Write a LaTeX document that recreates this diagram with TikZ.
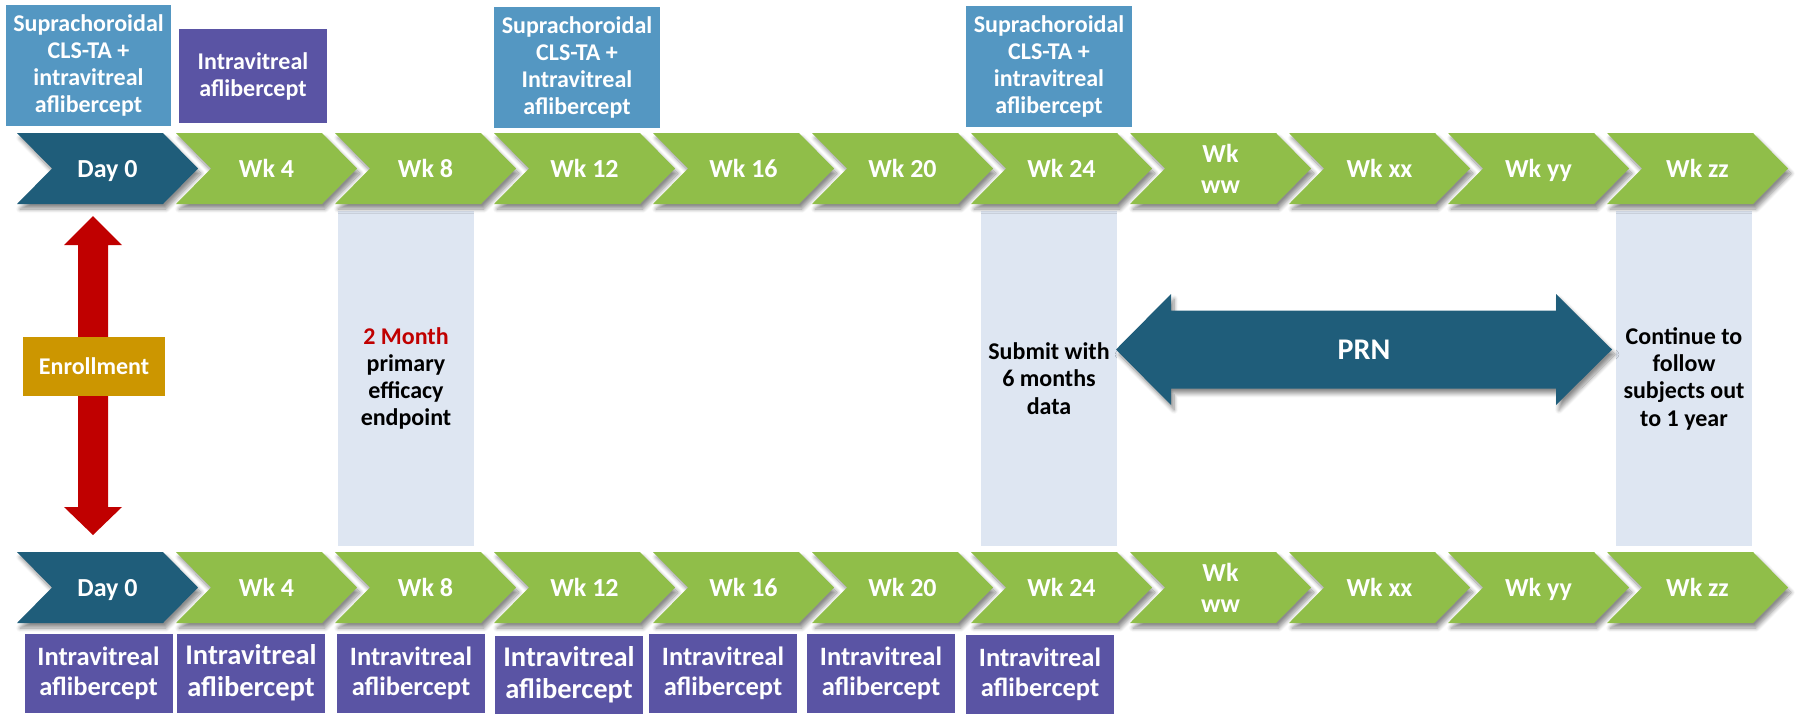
\documentclass[tikz,border=0pt]{standalone}
\usepackage{fontspec}
\setmainfont{Carlito}
\usetikzlibrary{shadows.blur}

\definecolor{boxblue}{RGB}{84,151,194}
\definecolor{boxpurple}{RGB}{90,84,164}
\definecolor{darkteal}{RGB}{31,93,122}
\definecolor{leafgreen}{RGB}{144,190,73}
\definecolor{gold}{RGB}{204,150,0}
\definecolor{arrowred}{RGB}{192,0,0}
\definecolor{bandblue}{RGB}{222,230,242}

\newcommand\fsz[2]{\fontsize{#1}{#2}\selectfont\bfseries}

\tikzset{
  softshadow/.style={blur shadow={shadow xshift=3pt, shadow yshift=-5pt,
      shadow blur radius=4pt, shadow blur steps=8, shadow opacity=45}},
  lbla/.style={text=white, inner sep=0pt, font=\fsz{26}{30},
      text height=17pt, text depth=0pt},
  lblb/.style={text=white, inner sep=0pt, font=\fsz{26}{31}, align=center},
  bluebox/.style={fill=boxblue, text=white, align=center, inner sep=0pt,
      font=\fsz{24}{27}},
  purplebox/.style={fill=boxpurple, text=white, align=center, inner sep=0pt,
      font=\fsz{24}{27}},
  dosebox/.style={purplebox, minimum width=148pt, minimum height=79pt,
      font=\fsz{26.5}{30}},
  bigdose/.style={font=\fsz{28.5}{32}},
  band/.style={fill=bandblue, text=black, align=center, inner sep=0pt,
      minimum width=136pt, minimum height=335pt, font=\fsz{24}{27.3}},
}

\begin{document}
\begin{tikzpicture}[x=1pt,y=-1pt]
\useasboundingbox (0,0) rectangle (1795,713);

% light vertical bands for the key time points
\node[band] (m8)  at (406,378.5)  {\textcolor{arrowred}{2 Month}\\primary\\efficacy\\endpoint};
\node[band] (m24) at (1049,378.5) {Submit with\\6 months\\data};
\node[band] (mzz) at (1684,378.5) {Continue to\\follow\\subjects out\\to 1 year};

% two rows of visit chevrons
\foreach \row/\yt/\yc in {top/133/168.5, bot/552/587.5}{
  \foreach \i/\lab/\sty in {0/Day 0/lbla, 1/Wk 4/lbla, 2/Wk 8/lbla, 3/Wk 12/lbla,
      4/Wk 16/lbla, 5/Wk 20/lbla, 6/Wk 24/lbla, 7/{Wk\\ww}/lblb,
      8/Wk xx/lbla, 9/Wk yy/lbla, 10/Wk zz/lbla}{
    \pgfmathsetmacro\xo{17+159*\i}
    \ifnum\i=0 \def\cc{darkteal}\else\def\cc{leafgreen}\fi
    \path[fill=\cc, softshadow] (\xo,\yt) -- ++(146,0) -- ++(35,35.5)
      -- ++(-35,35.5) -- ++(-146,0) -- ++(35,-35.5) -- cycle;
    \node[\sty] (\row\i) at (\xo+90.5,\yc) {\lab};
  }
}

% injections given at the top
\node[bluebox, minimum width=165pt, minimum height=121pt] (sc0) at (88.5,65.5)
  {Suprachoroidal\\CLS-TA +\\intravitreal\\aflibercept};
\node[purplebox, minimum width=148pt, minimum height=94pt] (iv4) at (253,76)
  {Intravitreal\\aflibercept};
\node[bluebox, minimum width=166pt, minimum height=121pt] (sc12) at (577,67.5)
  {Suprachoroidal\\CLS-TA +\\Intravitreal\\aflibercept};
\node[bluebox, minimum width=166pt, minimum height=121pt] (sc24) at (1049,66.5)
  {Suprachoroidal\\CLS-TA +\\intravitreal\\aflibercept};

% injections given at the bottom
\node[dosebox] (d0)  at (98.5,673.5)  {Intravitreal\\aflibercept};
\node[dosebox, bigdose] (d4)  at (251,673)  {Intravitreal\\aflibercept};
\node[dosebox] (d8)  at (411,673.5)  {Intravitreal\\aflibercept};
\node[dosebox, bigdose] (d12) at (569,675)  {Intravitreal\\aflibercept};
\node[dosebox] (d16) at (723,673)  {Intravitreal\\aflibercept};
\node[dosebox] (d20) at (881,673.5)  {Intravitreal\\aflibercept};
\node[dosebox] (d24) at (1040,674)  {Intravitreal\\aflibercept};

% enrollment double arrow
\path[fill=arrowred] (93,216) -- (122,245) -- (108,245) -- (108,507) -- (122,507)
  -- (93,535) -- (64,507) -- (78,507) -- (78,245) -- (64,245) -- cycle;
\node[fill=gold, text=white, inner sep=0pt, minimum width=142pt, minimum height=59pt,
  font=\fsz{24}{27}] (enr) at (94,366.5) {Enrollment};

% PRN double arrow
\path[fill=darkteal, softshadow] (1116,349.5) -- (1171,294) -- (1171,310.5)
  -- (1556,310.5) -- (1556,294) -- (1612,349.5) -- (1556,405) -- (1556,388.5)
  -- (1171,388.5) -- (1171,405) -- cycle;
\node[text=white, inner sep=0pt, font=\fsz{30}{34}] (prn) at (1364,349.5) {PRN};
\end{tikzpicture}
\end{document}
